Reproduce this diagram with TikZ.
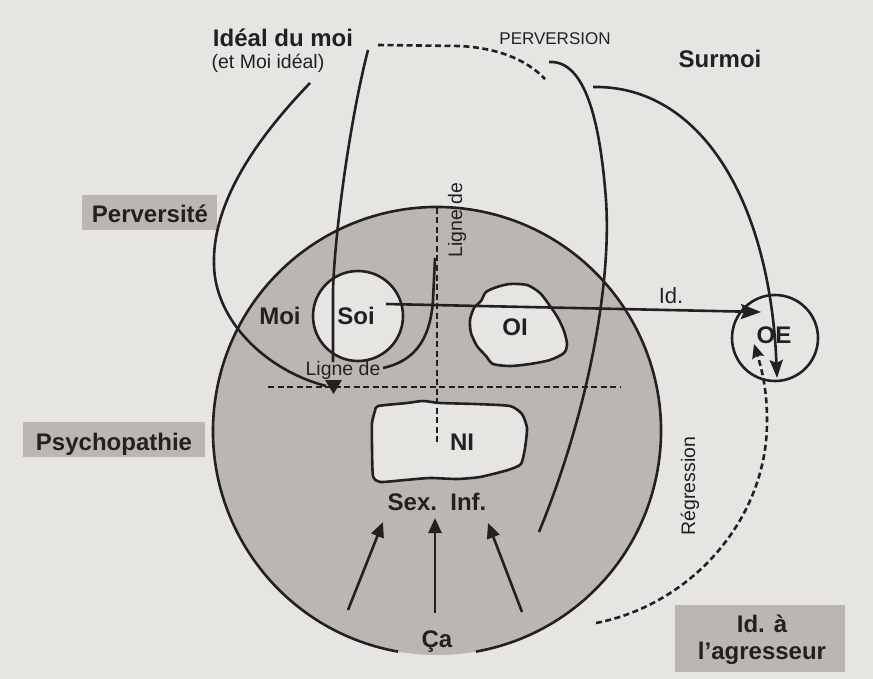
\documentclass[tikz,border=0pt]{standalone}
\usepackage{fontspec}
\setmainfont{Liberation Sans}
\usetikzlibrary{arrows.meta}
\definecolor{paper}{HTML}{E7E5E2}
\definecolor{shade}{HTML}{BAB7B3}
\definecolor{ink}{HTML}{232120}
\begin{document}
\begin{tikzpicture}[x=1pt,y=-1pt,
  ln/.style={draw=ink, line width=2.6pt},
  dsh/.style={draw=ink, line width=2.6pt, dash pattern=on 6pt off 3.5pt},
  bigtxt/.style={text=ink, font=\fontsize{24}{27}\selectfont\bfseries, inner sep=0pt, anchor=base},
  smalltxt/.style={text=ink, font=\fontsize{19.5}{22}\selectfont, inner sep=0pt, anchor=base},
  labelbox/.style={fill=shade, inner sep=0pt},
  uparrow/.style={-{Triangle[length=15pt,width=13pt]}},
]
\useasboundingbox (0,0) rectangle (873,679);
\fill[paper] (0,0) rectangle (873,679);

% label boxes
\node[labelbox, minimum width=135pt, minimum height=35pt] (perversitebox) at (149.5,212.5) {};
\node[labelbox, minimum width=182pt, minimum height=35pt] (psychobox) at (114,439.5) {};
\node[labelbox, minimum width=170pt, minimum height=67pt] (agresseurbox) at (760,638.5) {};

% big circle (Ca)
\node[circle, fill=shade, minimum size=448pt, inner sep=0pt] (ca) at (437,431) {};
\draw[ln] (ca.center) ++(100:224) arc[start angle=100, end angle=440, radius=224];

% inner shapes
\node[circle, ln, fill=paper, minimum size=90pt, inner sep=0pt] (soicircle) at (358,316) {};
\node[circle, ln, fill=paper, minimum size=86pt, inner sep=0pt] (oecircle) at (775,338) {};
\draw[ln, fill=paper] plot[smooth cycle, tension=0.45] coordinates {
  (486,292) (497,287) (510,284) (527,285) (540,293) (550,306) (558,318)
  (564,331) (567,344) (564,353) (550,360) (530,364) (510,366) (493,364)
  (486,356) (477,346) (471,333) (470,320) (474,308) (481,301)};
\draw[ln, fill=paper] plot[smooth cycle, tension=0.35] coordinates {
  (378,406) (407,403) (423,401) (440,403) (475,404) (510,406) (522,414)
  (527,428) (525,448) (521,464) (508,470) (480,477) (457,479) (430,478)
  (405,480) (380,482) (373,476) (372,447) (372,423) (375,411)};

% dashed lines
\draw[dsh] (268,387) -- (620,387);
\draw[dsh] (437,208) -- (437,443);

% curves
\coordinate (c1s) at (310,83);
\coordinate (c1e) at (326,386);
\draw[ln] (c1s) .. controls (260,135) and (212,200) .. (214,265)
  .. controls (215,320) and (265,370) .. (c1e);
\coordinate (c2s) at (368,50);
\coordinate (c2e) at (333,362);
\draw[ln] (c2s) .. controls (350,120) and (335,230) .. (333,290) -- (c2e);
\coordinate (tri) at (333.5,394);
\fill[ink] (325,380) -- (342,380) -- (tri) -- cycle;
\coordinate (pvs) at (378,45);
\coordinate (pve) at (545,79);
\draw[dsh] (pvs) -- (460,46) .. controls (495,48) and (525,58) .. (pve);
\coordinate (c4s) at (549,62);
\coordinate (c4e) at (539,532);
\draw[ln] (c4s) .. controls (585,60) and (600,120) .. (606,200)
  .. controls (612,290) and (585,420) .. (c4e);
\coordinate (c5s) at (435,258);
\coordinate (c5e) at (383,368);
\draw[ln] (c5s) -- (433,300) .. controls (430,345) and (410,362) .. (c5e);

% arrows to OE
\coordinate (sms) at (593,87);
\coordinate (sme) at (777,378);
\draw[ln, -{Stealth[length=18pt,width=13pt,inset=3pt]}] (sms) .. controls (700,85) and (770,200) .. (sme);
\coordinate (ids) at (386,304);
\coordinate (ide) at (761,312);
\draw[ln, -{Stealth[length=20pt,width=15pt,inset=3pt]}] (ids) -- (ide);
\coordinate (rgs) at (596,623);
\coordinate (rge) at (754,344);
\draw[dsh, -{Stealth[length=14pt,width=12pt,inset=2pt]}] (rgs) .. controls (690,605) and (768,520) .. (767,420)
  .. controls (767,390) and (762,370) .. (rge);

% arrows from Ca
\coordinate (a1s) at (348,610); \coordinate (a1e) at (383,522);
\coordinate (a2s) at (435,613); \coordinate (a2e) at (435,518);
\coordinate (a3s) at (522,612); \coordinate (a3e) at (488,523);
\draw[ln, uparrow] (a1s) -- (a1e);
\draw[ln, uparrow] (a2s) -- (a2e);
\draw[ln, uparrow] (a3s) -- (a3e);

% texts
\node[bigtxt] (ideal) at (283,47) {Idéal du moi};
\node[smalltxt] (etmoi) at (268,69) {(et Moi idéal)};
\node[smalltxt, font=\fontsize{17}{20}\selectfont] (perversion) at (555,45) {PERVERSION};
\node[bigtxt] (surmoi) at (720,68) {Surmoi};
\node[bigtxt] (perversite) at (150,223) {Perversité};
\node[bigtxt] (psycho) at (114,450) {Psychopathie};
\node[bigtxt] (moi) at (280,324) {Moi};
\node[bigtxt] (soi) at (356,324) {Soi};
\node[bigtxt] (oi) at (515,335) {OI};
\node[bigtxt] (ni) at (462,450) {NI};
\node[smalltxt, font=\fontsize{22}{26}\selectfont] (id) at (671,303) {Id.};
\node[bigtxt] (oe) at (774,343) {OE};
\node[bigtxt] (sexinf) at (437,510) {Sex.\ \ Inf.};
\node[bigtxt] (catxt) at (437,647) {Ça};
\node[smalltxt] (lignedeh) at (343,375) {Ligne de};
\node[smalltxt, anchor=center, rotate=90] (lignedev) at (457,220) {Ligne de};
\node[smalltxt, anchor=center, rotate=90] (regression) at (690,486) {Régression};
\node[bigtxt] (ida) at (762,632) {Id. à};
\node[bigtxt] (agresseur) at (762,659) {l’agresseur};
\end{tikzpicture}
\end{document}
